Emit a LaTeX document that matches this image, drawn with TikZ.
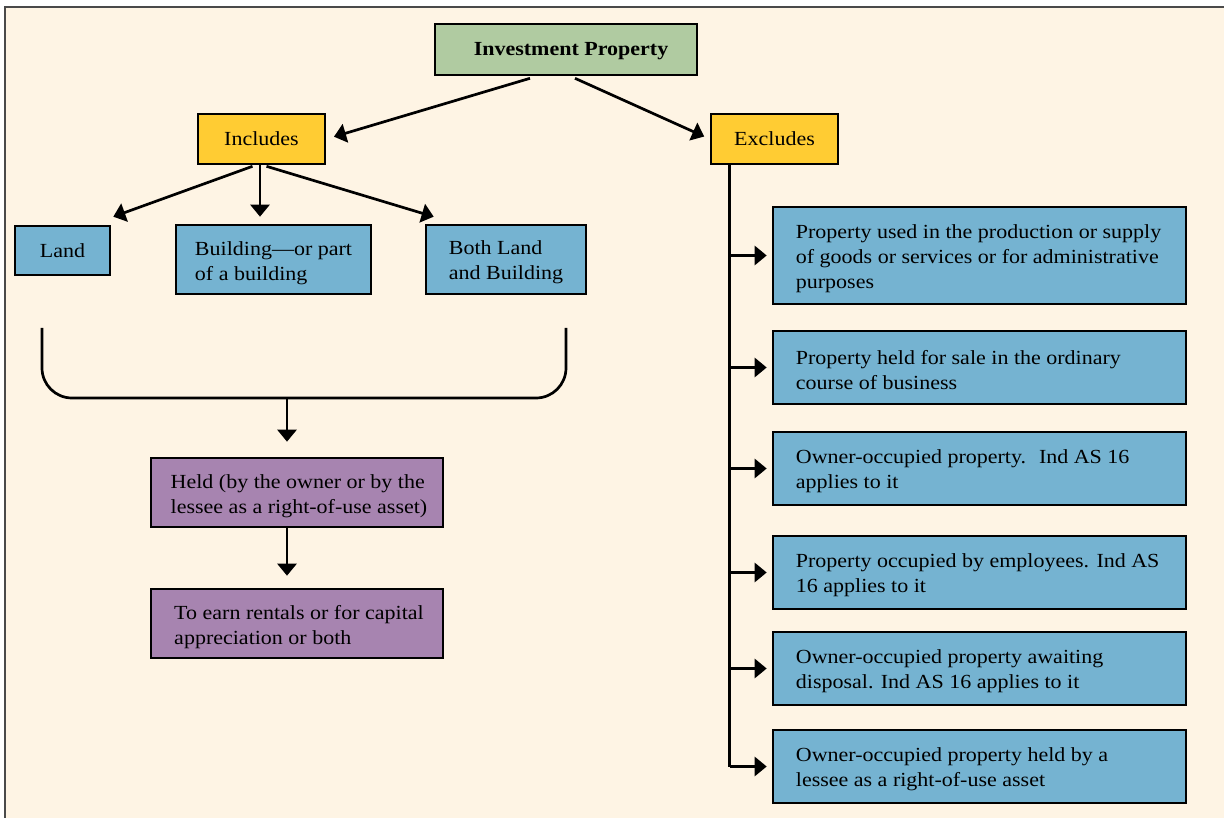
\documentclass[tikz,border=0pt]{standalone}
\usepackage{fontspec}
\setmainfont{Liberation Serif}[FakeStretch=1.1]
\usetikzlibrary{arrows.meta,calc}
\definecolor{bg}{HTML}{FEF4E4}
\definecolor{green}{HTML}{B0CBA1}
\definecolor{yel}{HTML}{FFCC33}
\definecolor{blu}{HTML}{75B3D1}
\definecolor{pur}{HTML}{A784B0}
\definecolor{frame}{HTML}{4A4A4A}
\begin{document}
\begin{tikzpicture}[x=1pt,y=-1pt,
  box/.style={draw=black, line width=2.6pt, inner sep=0pt, align=left,
    font=\fontsize{20}{25}\selectfont},
  txt/.style={inner sep=0pt, align=left, font=\fontsize{20}{25}\selectfont},
  arr/.style={line width=2.7pt, -{Triangle[length=12pt,width=19pt]}},
  ln/.style={line width=2.7pt}
]
\useasboundingbox (0,0) rectangle (1224,818);
\fill[white] (0,0) rectangle (1224,818);
\fill[bg] (5,7) rectangle (1224,818);
\draw[frame, line width=1.3pt] (5,818) -- (5,7) -- (1224,7);

% top level
\node[box, fill=green, minimum width=262pt, minimum height=51pt] (inv) at (566,49.5) {};
\node[txt, font=\fontsize{20}{25}\selectfont\bfseries] (invt) at ([xshift=5pt,yshift=-2pt]inv.center) {Investment Property};
\node[box, fill=yel, minimum width=127pt, minimum height=50pt] (inc) at (261.5,139) {Includes};
\node[box, fill=yel, minimum width=127pt, minimum height=50pt] (exc) at (774.5,139) {Excludes};

% includes children
\node[box, fill=blu, minimum width=95pt, minimum height=49pt] (land) at (62.5,250.5) {Land};
\node[box, fill=blu, minimum width=195pt, minimum height=69pt] (bldg) at (273.5,259.5) {};
\node[txt] (bldgt) at ([yshift=-4pt]bldg.center) {Building—or part\\of a building};
\node[box, fill=blu, minimum width=160pt, minimum height=69pt] (both) at (506,259.5) {};
\node[txt] (botht) at ([yshift=-3pt]both.center) {Both Land\\and Building};

\node[box, fill=pur, minimum width=292pt, minimum height=69pt] (held) at (297,492.5) {};
\node[txt] (heldt) at ([xshift=2pt,yshift=-4pt]held.center) {Held (by the owner or by the\\lessee as a right-of-use asset)};
\node[box, fill=pur, minimum width=292pt, minimum height=69pt] (earn) at (297,623.5) {};
\node[txt] (earnt) at ([xshift=2pt,yshift=-4pt]earn.center) {To earn rentals or for capital\\appreciation or both};

% excludes children
\node[box, fill=blu, minimum width=413pt, minimum height=97pt] (eb1) at (979.5,255.5) {};
\node[box, fill=blu, minimum width=413pt, minimum height=73pt] (eb2) at (979.5,367.5) {};
\node[box, fill=blu, minimum width=413pt, minimum height=73pt] (eb3) at (979.5,468.5) {};
\node[box, fill=blu, minimum width=413pt, minimum height=73pt] (eb4) at (979.5,572.5) {};
\node[box, fill=blu, minimum width=413pt, minimum height=73pt] (eb5) at (979.5,668.5) {};
\node[box, fill=blu, minimum width=413pt, minimum height=73pt] (eb6) at (979.5,766.5) {};
\tikzset{ex/.style={txt, anchor=west}}
\node[ex] (et1) at ([xshift=24pt,yshift=-3pt]eb1.west) {Property used in the production or supply\\of goods or services or for administrative\\purposes};
\node[ex] (et2) at ([xshift=24pt,yshift=-3pt]eb2.west) {Property held for sale in the ordinary\\course of business};
\node[ex] (et3) at ([xshift=24pt,yshift=-3pt]eb3.west) {Owner-occupied property.~ Ind AS 16\\applies to it};
\node[ex] (et4) at ([xshift=24pt,yshift=-3pt]eb4.west) {Property occupied by employees. Ind AS\\16 applies to it};
\node[ex] (et5) at ([xshift=24pt,yshift=-3pt]eb5.west) {Owner-occupied property awaiting\\disposal. Ind AS 16 applies to it};
\node[ex] (et6) at ([xshift=24pt,yshift=-3pt]eb6.west) {Owner-occupied property held by a\\lessee as a right-of-use asset};

% top arrows
\draw[arr, shorten >=8pt] ([xshift=-36pt,yshift=-2pt]inv.south) -- (inc.east);
\draw[arr, shorten >=6pt] ([xshift=9pt,yshift=-2pt]inv.south) -- (exc.west);

% includes arrows
\draw[arr] ([xshift=-9pt,yshift=-1pt]inc.south) -- ([xshift=2pt,yshift=8pt]land.north east);
\coordinate (bx) at ([xshift=-1.5pt]inc.south);
\draw[arr, shorten >=7pt] (bx) -- (bx |- bldg.north);
\draw[arr] ([xshift=5pt,yshift=-1pt]inc.south) -- ([xshift=9pt,yshift=7pt]both.north west);

% brace
\coordinate (bl) at (42,328);
\coordinate (br) at (566,328);
\coordinate (bm) at (287,398);
\draw[ln, rounded corners=30pt] (bl) -- (42,398) -- (566,398) -- (br);
\draw[arr, shorten >=15pt] (bm) -- (bm |- held.north);
\draw[arr, shorten >=12pt] (bm |- held.south) -- (bm |- earn.north);

% excludes trunk
\coordinate (tr) at ([xshift=20pt]exc.south west);
\coordinate (trend) at (tr |- eb6.west);
\draw[ln] (tr) -- (trend);
\foreach \b in {eb1,eb2,eb3,eb4,eb5,eb6}{
  \draw[arr, shorten >=5pt] (tr |- \b.west) -- (\b.west);
}
\end{tikzpicture}
\end{document}
